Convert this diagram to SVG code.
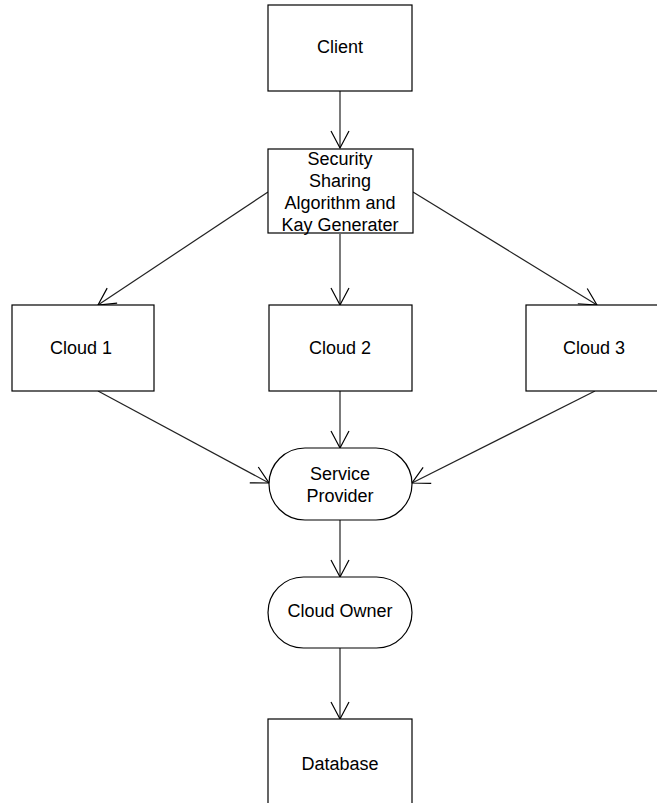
<svg xmlns="http://www.w3.org/2000/svg" width="657" height="803" viewBox="0 0 657 803">
<style>
.box{fill:#fff;stroke:#000;stroke-width:1.2}
.t{font-family:"Liberation Sans",Arial,sans-serif;font-size:18px;fill:#000;text-anchor:middle}
.c{fill:none;stroke:#222;stroke-width:1.2}
</style>
<defs>
<marker id="ah" markerUnits="userSpaceOnUse" markerWidth="40" markerHeight="40" refX="0" refY="0" viewBox="-20 -20 40 40" orient="auto" overflow="visible">
<path d="M-17,-9 L0,0 L-17,9" fill="none" stroke="#000" stroke-width="1.2"/>
</marker>
</defs>
<rect width="657" height="803" fill="#fff"/>
<g id="connectors">
<line class="c" x1="340" y1="91" x2="340" y2="148" marker-end="url(#ah)"/>
<line class="c" x1="268" y1="192" x2="98" y2="305" marker-end="url(#ah)"/>
<line class="c" x1="340" y1="234" x2="340" y2="305" marker-end="url(#ah)"/>
<line class="c" x1="413" y1="192" x2="597" y2="305" marker-end="url(#ah)"/>
<line class="c" x1="98" y1="391" x2="269" y2="483" marker-end="url(#ah)"/>
<line class="c" x1="340" y1="391" x2="340" y2="448" marker-end="url(#ah)"/>
<line class="c" x1="595" y1="391" x2="412" y2="483" marker-end="url(#ah)"/>
<line class="c" x1="340" y1="520" x2="340" y2="577" marker-end="url(#ah)"/>
<line class="c" x1="340" y1="648" x2="340" y2="719" marker-end="url(#ah)"/>
</g>
<g id="client"><rect class="box" x="268" y="5" width="144" height="86"/><text class="t" x="340" y="53">Client</text></g>
<g id="security"><rect class="box" x="268" y="149" width="145" height="84"/>
<text class="t" x="340" y="165">Security</text><text class="t" x="340" y="187">Sharing</text><text class="t" x="340" y="209">Algorithm and</text><text class="t" x="340" y="231">Kay Generater</text></g>
<g id="cloud1"><rect class="box" x="12" y="305" width="142" height="86"/><text class="t" x="81" y="354">Cloud 1</text></g>
<g id="cloud2"><rect class="box" x="269" y="305" width="143" height="86"/><text class="t" x="340" y="354">Cloud 2</text></g>
<g id="cloud3"><rect class="box" x="526" y="305" width="143" height="86"/><text class="t" x="594" y="354">Cloud 3</text></g>
<g id="service-provider"><rect class="box" x="269" y="448" width="143" height="72" rx="36" ry="36"/><text class="t" x="340" y="480">Service</text><text class="t" x="340" y="502">Provider</text></g>
<g id="cloud-owner"><rect class="box" x="268" y="577" width="144" height="71" rx="35.5" ry="35.5"/><text class="t" x="340" y="617">Cloud Owner</text></g>
<g id="database"><rect class="box" x="268" y="719" width="144" height="90"/><text class="t" x="340" y="770">Database</text></g>
</svg>
